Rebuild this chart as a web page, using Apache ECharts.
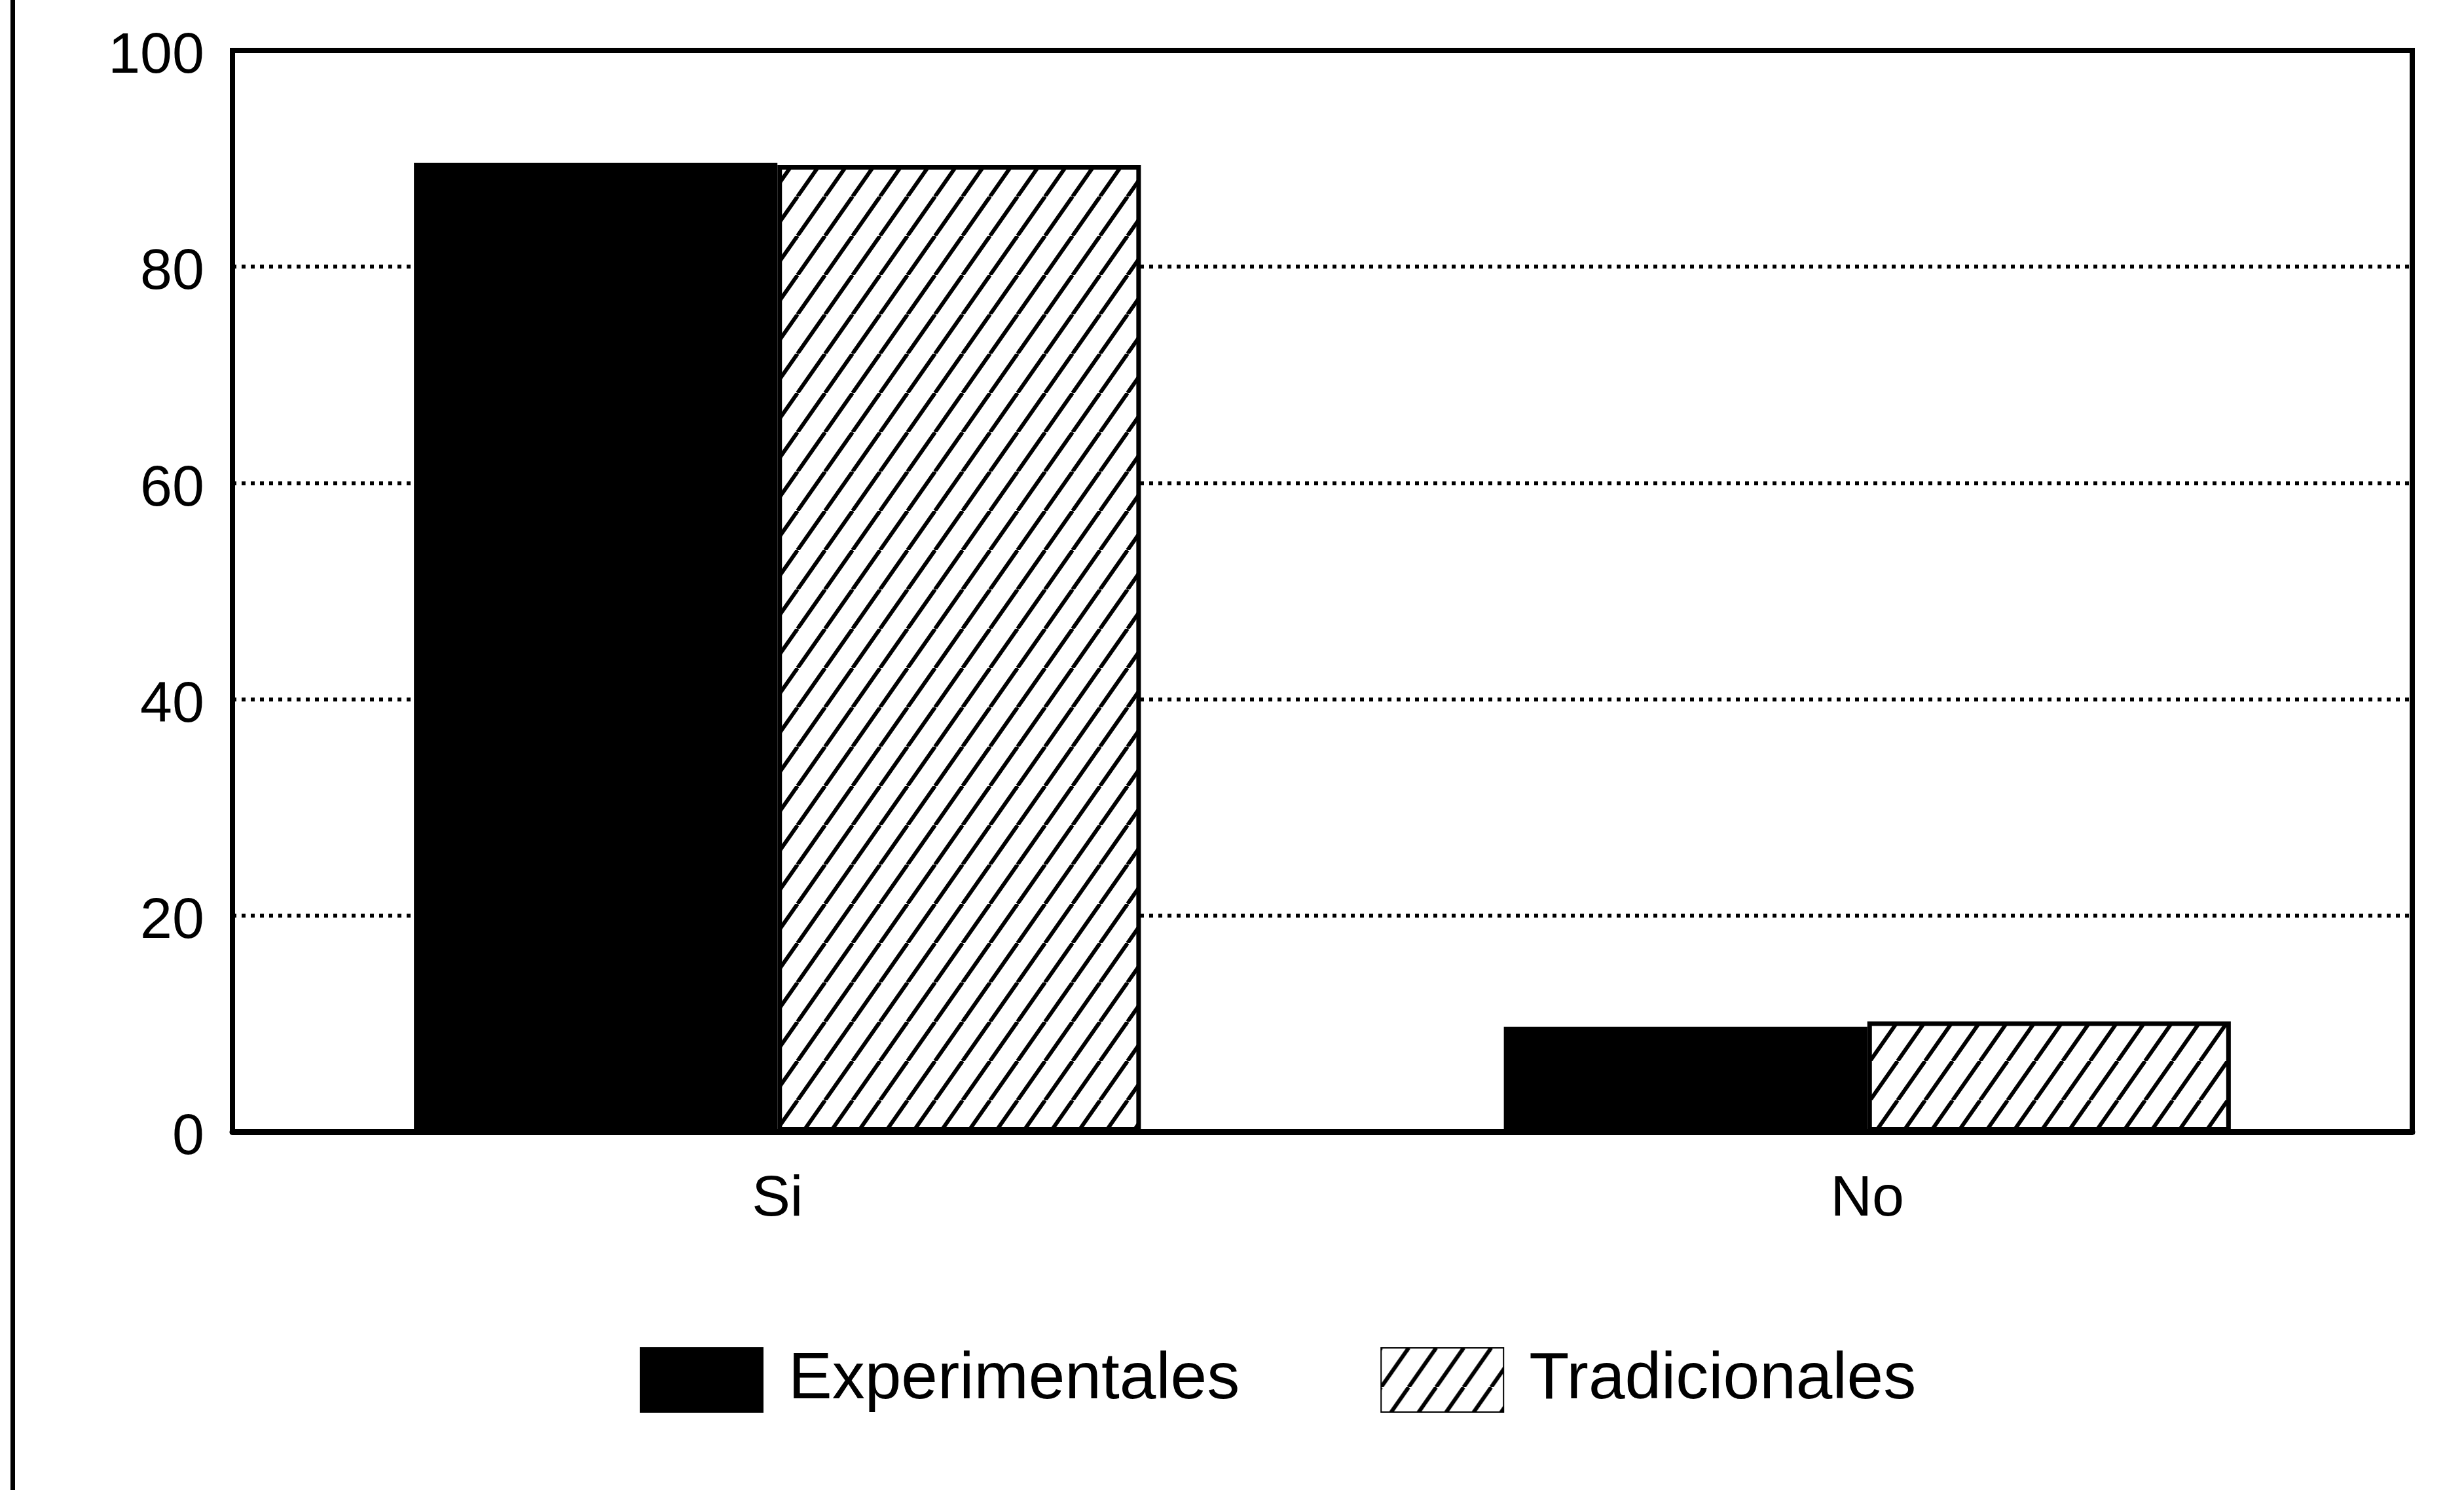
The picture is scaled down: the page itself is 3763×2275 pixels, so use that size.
<!DOCTYPE html>
<html>
<head>
<meta charset="utf-8">
<script src="https://cdn.jsdelivr.net/npm/echarts@6/dist/echarts.min.js"></script>
<style>
    html, body { margin: 0; padding: 0; background: #fff; }
    #chart { width: 3763px; height: 2275px; }
</style>
</head>
<body>
<div id="chart"></div>
<script>
const categories = ['Si', 'No'];
const experimentales = [89.6, 9.7];
const tradicionales = [89.4, 10.2];
const yTicks = { min: 0, max: 100, interval: 20 };

const FONT = '"Liberation Sans", Arial, sans-serif';

// diagonal hatch tile for the "Tradicionales" bars
const makeHatch = () => {
    const a = 42, b = 60;
    const c = document.createElement('canvas');
    c.width = a;
    c.height = b;
    const ctx = c.getContext('2d');
    ctx.fillStyle = '#fff';
    ctx.fillRect(0, 0, a, b);
    ctx.strokeStyle = '#000';
    ctx.lineWidth = 6;
    for (let k = -1; k <= 1; k++) {
        ctx.beginPath();
        ctx.moveTo(k * a, b);
        ctx.lineTo((k + 1) * a, 0);
        ctx.stroke();
    }
    return c;
};

const chart = echarts.init(document.getElementById('chart'));

const option = {
    animation: false,
    backgroundColor: '#fff',
    textStyle: { fontFamily: FONT, color: '#000' },
    graphic: [{
        type: 'rect',
        shape: { x: 16, y: 0, width: 7, height: 2275 },
        style: { fill: '#000' }
    }],
    legend: {
        left: 977,
        top: 2057,
        padding: 0,
        icon: 'rect',
        itemWidth: 187,
        itemHeight: 98,
        itemGap: 215,
        textStyle: {
            fontFamily: FONT,
            fontSize: 100,
            color: '#000',
            padding: [0, 0, 0, 34]
        },
        data: ['Experimentales', 'Tradicionales']
    },
    grid: {
        left: 355,
        right: 79,
        top: 77,
        bottom: 547,
        show: true,
        borderColor: '#000',
        borderWidth: 8,
        backgroundColor: 'transparent'
    },
    xAxis: {
        type: 'category',
        data: categories,
        axisLine: { show: true, lineStyle: { color: '#000', width: 9 } },
        axisTick: { show: false },
        axisLabel: {
            fontFamily: FONT,
            fontSize: 88,
            color: '#000',
            margin: 60
        }
    },
    yAxis: {
        type: 'value',
        min: yTicks.min,
        max: yTicks.max,
        interval: yTicks.interval,
        axisLine: { show: false },
        axisTick: { show: false },
        axisLabel: {
            fontFamily: FONT,
            fontSize: 88,
            color: '#000',
            margin: 43,
            verticalAlign: 'top',
            lineHeight: 20
        },
        splitLine: {
            show: true,
            lineStyle: { color: '#000', width: 6, type: [6, 8] }
        }
    },
    series: [
        {
            name: 'Experimentales',
            type: 'bar',
            data: experimentales,
            barGap: '0%',
            barCategoryGap: '33.3%',
            itemStyle: { color: '#000', borderColor: '#000', borderWidth: 2 }
        },
        {
            name: 'Tradicionales',
            type: 'bar',
            data: tradicionales,
            barGap: '0%',
            barCategoryGap: '33.3%',
            itemStyle: {
                color: { image: makeHatch(), repeat: 'repeat' },
                borderColor: '#000',
                borderWidth: 7
            }
        }
    ]
};

chart.setOption(option);
</script>
</body>
</html>
